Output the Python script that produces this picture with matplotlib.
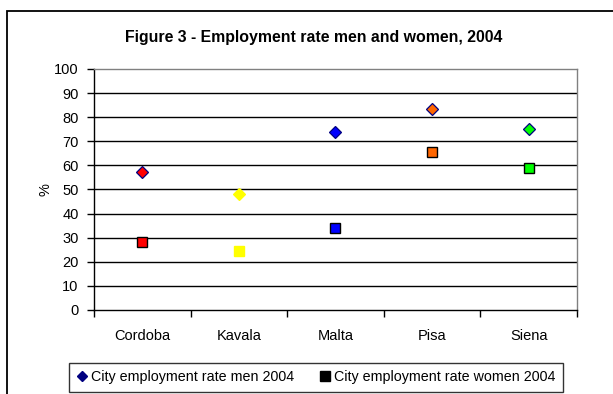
import matplotlib
matplotlib.use('Agg')
import matplotlib.pyplot as plt
from matplotlib.lines import Line2D
from matplotlib.patches import Rectangle

plt.rcParams['font.family'] = ['Liberation Sans', 'DejaVu Sans']

# Employment rates by city, 2004 (%)
cities = ['Cordoba', 'Kavala', 'Malta', 'Pisa', 'Siena']
men_rate = [57.4, 48.0, 74.0, 83.3, 75.0]
women_rate = [28.3, 24.5, 34.2, 65.4, 58.8]
city_colors = ['#FF0000', '#FFFF00', '#0000FF', '#FF6600', '#00FF00']
diamond_edges = ['#000080', '#FFFF00', '#000080', '#000080', '#000080']
square_edges = ['#000000', '#FFFF00', '#000000', '#000000', '#000000']

fig = plt.figure(figsize=(6.13, 3.94), dpi=100)
ax = fig.add_axes([0.1533, 0.2132, 0.788, 0.6117])

# chart area border (runs off the right and bottom edges)
fig.patches.append(Rectangle((0.0114, -0.2), 1.5, 0.972 + 0.2, transform=fig.transFigure,
                             fill=False, edgecolor='black', linewidth=1.3))

# horizontal gridlines
for v in range(10, 100, 10):
    ax.axhline(v, color='black', linewidth=1.0, zorder=1)

for i in range(len(cities)):
    ax.plot(i, women_rate[i], marker='s', markersize=7.5, color=city_colors[i],
            markeredgecolor=square_edges[i], markeredgewidth=1.0, linestyle='none', zorder=3)
    ax.plot(i, men_rate[i], marker='D', markersize=6, color=city_colors[i],
            markeredgecolor=diamond_edges[i], markeredgewidth=0.9, linestyle='none', zorder=3)

ax.set_xlim(-0.5, len(cities) - 0.5)
ax.set_ylim(0, 100)
ax.set_yticks(range(0, 101, 10))
ax.tick_params(axis='y', direction='out', length=5, width=1, pad=6, labelsize=10.5)

# category boundaries as ticks, city names centred between them
ax.set_xticks([i - 0.5 for i in range(len(cities) + 1)])
ax.set_xticklabels([])
ax.set_xticks(range(len(cities)), minor=True)
ax.set_xticklabels(cities, minor=True)
ax.tick_params(axis='x', which='major', direction='out', length=5, width=1)
ax.tick_params(axis='x', which='minor', length=0, pad=14, labelsize=10.5)

ax.spines['left'].set_color('black')
ax.spines['bottom'].set_color('black')
ax.spines['top'].set_color('#808080')
ax.spines['right'].set_color('#808080')
for s in ax.spines.values():
    s.set_linewidth(1.0)

ax.set_ylabel('%', fontsize=10.5)
ax.yaxis.set_label_coords(-0.085, 0.5)

fig.text(0.512, 0.906, 'Figure 3 - Employment rate men and women, 2004',
         ha='center', va='center', fontsize=11.4, fontweight='bold')

handles = [
    Line2D([], [], marker='D', color='#000080', markersize=5, linestyle='none'),
    Line2D([], [], marker='s', color='black', markersize=7, linestyle='none'),
]
leg = fig.legend(handles, ['City employment rate men 2004', 'City employment rate women 2004'],
                 loc='center', bbox_to_anchor=(0.5155, 0.0419), ncol=2, fontsize=10.3,
                 frameon=True, fancybox=False, handlelength=0.8, handletextpad=0.2,
                 columnspacing=1.8, borderpad=0.5)
leg.get_frame().set_edgecolor('black')
leg.get_frame().set_linewidth(1.0)

fig.savefig('out.png', dpi=100)
